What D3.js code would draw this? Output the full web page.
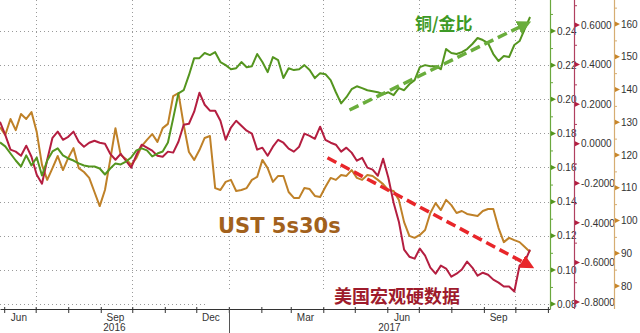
<!DOCTYPE html>
<html><head><meta charset="utf-8">
<script src="https://cdn.jsdelivr.net/npm/d3@7"></script>
<style>html,body{margin:0;padding:0;background:#fff;} svg{display:block}</style>
</head><body>
<svg id="chart" width="640" height="333"></svg>
<script>
// ---- data (one value every 5 days starting 2016-05-28) ----
const startDate = "2016-05-28";
const stepDays = 5;
const copperGold = [0.1747,0.1724,0.1682,0.1641,0.1606,0.1671,0.1612,0.1659,0.1553,0.1641,0.1694,0.1712,0.1671,0.1653,0.1641,0.1624,0.1612,0.1606,0.1606,0.1594,0.1559,0.1594,0.1624,0.1618,0.1635,0.1659,0.1700,0.1712,0.1700,0.1665,0.1682,0.1694,0.1747,0.1888,0.2035,0.2053,0.2141,0.2241,0.2241,0.2271,0.2259,0.2276,0.2218,0.2200,0.2176,0.2182,0.2218,0.2188,0.2194,0.2265,0.2218,0.2159,0.2247,0.2229,0.2124,0.2182,0.2171,0.2176,0.2200,0.2171,0.2124,0.2153,0.2147,0.2112,0.2041,0.1976,0.2012,0.2059,0.2076,0.2065,0.2053,0.2047,0.2041,0.2029,0.2041,0.2024,0.2065,0.2053,0.2088,0.2112,0.2188,0.2200,0.2194,0.2194,0.2176,0.2294,0.2271,0.2265,0.2276,0.2294,0.2324,0.2359,0.2347,0.2329,0.2265,0.2224,0.2253,0.2247,0.2318,0.2341,0.2412,0.2482];
const hardData = [0.111,0.045,-0.030,-0.040,-0.061,-0.010,-0.066,-0.157,-0.202,-0.081,0.030,0.061,0.020,0.035,0.061,0.010,-0.015,0.005,0.015,0.005,0.000,-0.051,-0.081,-0.051,-0.086,-0.121,-0.056,-0.005,-0.020,-0.035,-0.061,-0.066,-0.040,-0.045,0.010,0.096,0.101,0.162,0.258,0.197,0.167,0.167,0.116,0.020,0.081,0.116,0.091,0.066,0.051,-0.030,-0.020,-0.061,-0.015,0.020,0.005,-0.025,-0.040,-0.015,0.051,0.040,0.025,0.086,0.020,0.005,-0.005,-0.040,-0.020,-0.045,-0.086,-0.071,-0.121,-0.131,-0.162,-0.076,-0.172,-0.298,-0.394,-0.535,-0.571,-0.581,-0.530,-0.566,-0.626,-0.657,-0.616,-0.631,-0.672,-0.657,-0.636,-0.596,-0.626,-0.667,-0.652,-0.662,-0.687,-0.702,-0.722,-0.722,-0.747,-0.616,-0.596,-0.535];
const ust5s30s = [128.5,126.1,131.0,127.6,132.5,131.0,133.1,127.0,117.0,112.4,116.0,119.7,115.4,119.1,122.1,116.0,114.8,113.0,108.7,104.4,109.3,118.5,128.2,120.0,118.8,117.0,119.1,122.7,124.6,126.4,124.0,128.2,129.5,138.0,138.9,129.2,120.9,118.5,121.5,125.2,125.8,109.9,109.3,111.8,112.4,109.0,109.3,109.9,112.4,113.3,118.5,116.0,111.8,113.6,113.6,108.7,106.9,106.9,109.9,109.6,107.5,107.2,110.2,113.0,112.4,113.9,113.6,115.4,113.0,112.4,113.9,113.6,112.4,111.1,109.3,109.0,106.3,99.5,95.3,94.7,95.6,97.1,102.3,105.3,103.2,106.3,104.7,102.3,102.9,102.0,101.7,101.4,102.9,103.5,103.5,97.7,93.4,94.7,94.0,93.4,91.9,90.4];

const greenTicks = [0.08,0.10,0.12,0.14,0.16,0.18,0.20,0.22,0.24];
const redTicks = [-0.8,-0.6,-0.4,-0.2,0.0,0.2,0.4,0.6];
const orangeTicks = [80,90,100,110,120,130,140,150,160];
const monthLabels = ["Jun","Sep","Dec","Mar","Jun","Sep"];
const monthLabelDates = ["2016-06-15","2016-09-15","2016-12-15","2017-03-15","2017-06-15","2017-09-15"];
const yearLabels = ["2016","2017"];
const gridDates = ["2016-07-01","2016-10-01","2017-01-01","2017-04-01","2017-07-01","2017-10-01"];
const xDomain = ["2016-05-28","2017-11-03"];
const yearBreak = "2017-01-01";

// annotation arrows (date, value on the series' own scale)
const greenArrow = [["2017-04-26",0.1937],["2017-10-15",0.2453]];
const redArrow = [["2017-04-05",-0.071],["2017-10-18",-0.626]];

// ---- setup ----
const parse = d3.timeParse("%Y-%m-%d");
const t0 = parse(startDate);
const dates = copperGold.map((_, i) => d3.timeDay.offset(t0, i * stepDays));

const svg = d3.select("#chart");
const W = 640, H = 333;
const plotR = 550, axisY = 309;

const x = d3.scaleTime().domain(xDomain.map(parse)).range([0, plotR]);
const yG = d3.scaleLinear().domain([0.08, 0.24]).range([304, 31]);
const yR = d3.scaleLinear().domain([-0.8, 0.6]).range([302, 25]);
const yO = d3.scaleLinear().domain([80, 160]).range([286, 24]);

const cGreen = "#54951f", cRed = "#b41e40", cOrange = "#bf8128";
const fontAxis = "'Liberation Sans', Arial, sans-serif";

// grid
const grid = svg.append("g").attr("stroke", "#9a9a9a").attr("stroke-width", 1).attr("stroke-dasharray", "1,3");
grid.selectAll("line.h").data(greenTicks).join("line").attr("class","h")
  .attr("x1", 0).attr("x2", plotR).attr("y1", d => Math.round(yG(d)) + 0.5).attr("y2", d => Math.round(yG(d)) + 0.5);
grid.selectAll("line.v").data(gridDates.map(parse)).join("line").attr("class","v")
  .attr("x1", d => Math.round(x(d)) + 0.5).attr("x2", d => Math.round(x(d)) + 0.5).attr("y1", 0).attr("y2", axisY);

// white background behind bottom label
svg.append("rect").attr("x", x(parse("2016-12-12"))).attr("y", 292).attr("width", x(parse("2017-08-20")) - x(parse("2016-12-12"))).attr("height", 15).attr("fill", "#fff");

// lines
const line = (yS) => d3.line().x((d, i) => x(dates[i])).y(d => yS(d)).curve(d3.curveLinear);
svg.append("path").datum(ust5s30s).attr("d", line(yO)).attr("fill","none").attr("stroke", cOrange).attr("stroke-width", 2).attr("stroke-linejoin","round");
svg.append("path").datum(hardData).attr("d", line(yR)).attr("fill","none").attr("stroke", cRed).attr("stroke-width", 2).attr("stroke-linejoin","round");
svg.append("path").datum(copperGold).attr("d", line(yG)).attr("fill","none").attr("stroke", cGreen).attr("stroke-width", 2).attr("stroke-linejoin","round");

// arrows
const defs = svg.append("defs");
function marker(id, col) {
  defs.append("marker").attr("id", id).attr("viewBox", "0 0 10 10").attr("refX", 2).attr("refY", 5)
    .attr("markerWidth", 4).attr("markerHeight", 4).attr("orient", "auto")
    .append("path").attr("d", "M0,0 L10,5 L0,10 z").attr("fill", col);
}
marker("ag", "#6aad3c"); marker("ar", "#e8262a");
function arrow(pts, yS, col, mid) {
  const p = pts.map(([d, v]) => [x(parse(d)), yS(v)]);
  // shorten so the head ends at the tip
  const dx = p[1][0] - p[0][0], dy = p[1][1] - p[0][1], L = Math.hypot(dx, dy);
  const e = [p[1][0] - dx / L * 10, p[1][1] - dy / L * 10];
  svg.append("line").attr("x1", p[0][0]).attr("y1", p[0][1]).attr("x2", e[0]).attr("y2", e[1])
    .attr("stroke", col).attr("stroke-width", 3.5).attr("stroke-dasharray", "10,5").attr("marker-end", `url(#${mid})`);
}
arrow(greenArrow, yG, "#6aad3c", "ag");
arrow(redArrow, yR, "#e8262a", "ar");

// x axis
const xAxis = d3.axisBottom(x).ticks(d3.timeMonth.every(1)).tickSize(4).tickSizeOuter(0).tickFormat("");
const gx = svg.append("g").attr("transform", `translate(0,${axisY})`).call(xAxis);
gx.select(".domain").attr("stroke", "#333");
gx.selectAll(".tick line").attr("stroke", "#333").attr("y1", -2);
svg.append("line").attr("x1", Math.round(x(parse(yearBreak))) + 0.5).attr("x2", Math.round(x(parse(yearBreak))) + 0.5)
  .attr("y1", axisY).attr("y2", H).attr("stroke", "#555");
svg.append("g").selectAll("text").data(monthLabels).join("text")
  .attr("x", (d, i) => x(parse(monthLabelDates[i]))).attr("y", 321).attr("text-anchor", "middle")
  .attr("font-family", fontAxis).attr("font-size", 10).attr("fill", "#333").text(d => d);
const yb = x(parse(yearBreak));
svg.append("g").selectAll("text").data(yearLabels).join("text")
  .attr("x", (d, i) => i === 0 ? yb / 2 : (yb + plotR) / 2).attr("y", 331).attr("text-anchor", "middle")
  .attr("font-family", fontAxis).attr("font-size", 10).attr("fill", "#333").text(d => d);

// right axes
function rightAxis(xPos, scale, ticks, minor, col, lineCol, fmt) {
  const g = svg.append("g").attr("transform", `translate(${xPos},0)`);
  g.append("line").attr("x1", 0.5).attr("x2", 0.5).attr("y1", 0).attr("y2", axisY).attr("stroke", lineCol).attr("stroke-width", 1.2);
  const mn = g.append("g").call(d3.axisRight(scale).tickValues(minor).tickSize(3).tickFormat(""));
  mn.select(".domain").remove();
  mn.selectAll(".tick line").attr("stroke", lineCol);
  const mj = g.append("g").call(d3.axisRight(scale).tickValues(ticks).tickSize(0).tickPadding(7).tickFormat(fmt));
  mj.select(".domain").remove();
  mj.selectAll("text").attr("font-family", fontAxis).attr("font-size", 10).attr("fill", "#333");
  g.selectAll("path.mk").data(ticks).join("path").attr("class", "mk")
    .attr("d", d => `M1,${scale(d) - 2.5} L6,${scale(d)} L1,${scale(d) + 2.5} z`).attr("fill", col);
}
const range = (a, b, s) => d3.range(Math.round(a / s), Math.round(b / s) + 1).map(k => +(k * s).toFixed(4));
rightAxis(550, yG, greenTicks, range(0.08, 0.25, 0.01), cGreen, "#6aa83e", d => d.toFixed(2));
rightAxis(574, yR, redTicks, range(-0.8, 0.7, 0.1), cRed, "#b04060", d => d.toFixed(4));
rightAxis(614, yO, orangeTicks, range(80, 165, 5), "#c8862a", "#d6ad72", d => String(d));

// annotations text
svg.append("text").attr("x", 415).attr("y", 30).attr("font-family", "'Noto Sans CJK SC', sans-serif").attr("font-weight", "bold")
  .attr("font-size", 17).attr("fill", "#3d9a26").text("铜/金比");
svg.append("text").attr("x", 218).attr("y", 233).attr("font-family", "'DejaVu Sans', sans-serif").attr("font-weight", "bold")
  .attr("font-size", 21).attr("fill", "#a2611c").text("UST 5s30s");
svg.append("text").attr("x", 334).attr("y", 303).attr("font-family", "'Noto Sans CJK SC', sans-serif").attr("font-weight", "bold")
  .attr("font-size", 18).attr("fill", "#9e1b2c").text("美国宏观硬数据");
</script>
</body></html>
